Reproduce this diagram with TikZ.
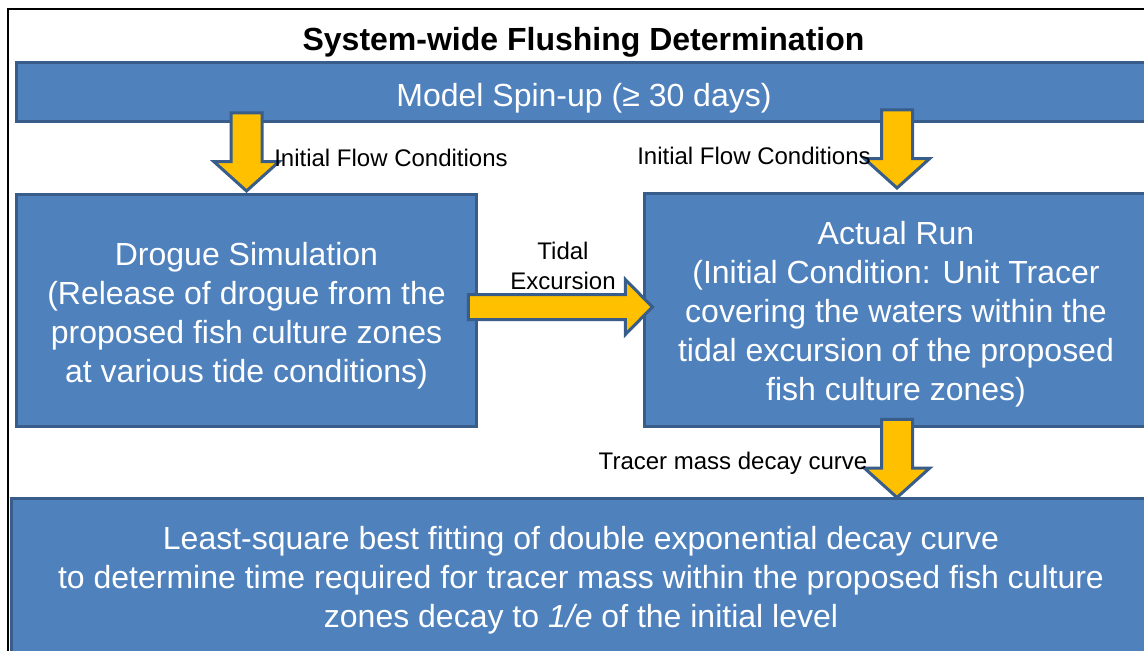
\documentclass[tikz,border=0pt]{standalone}
\usepackage{fontspec}
\setmainfont{Liberation Sans}
\usetikzlibrary{shapes.arrows,calc,positioning}
\definecolor{boxfill}{HTML}{4F81BD}
\definecolor{boxline}{HTML}{385D8A}
\definecolor{arrowfill}{HTML}{FFC000}
\tikzset{
    block/.style={
           rectangle,
           draw=boxline, line width=3pt,
           fill=boxfill,
           inner sep=0pt,
           },
    boxtext/.style={
           text=white,
           align=center,
           inner sep=0pt,
           font=\fontsize{32}{39}\selectfont,
           },
    fatdown/.style={
           single arrow,
           draw=boxline, line width=3pt,
           fill=arrowfill,
           inner xsep=0pt, inner ysep=14pt,
           single arrow head extend=17pt,
           single arrow tip angle=96,
           minimum height=78pt,
           rotate=-90,
           anchor=tip,
           },
    fatright/.style={
           single arrow,
           draw=boxline, line width=3pt,
           fill=arrowfill,
           inner xsep=0pt, inner ysep=11pt,
           single arrow head extend=15pt,
           single arrow tip angle=91,
           minimum height=184pt,
           anchor=tip,
           },
    lbl/.style={
           align=center,
           inner sep=0pt,
           font=\fontsize{24}{30}\selectfont,
           }
}
\begin{document}
\begin{tikzpicture}[x=1pt,y=-1pt]
\path[use as bounding box, fill=white] (0,0) rectangle (1144,651);
\draw[black, line width=1.2pt] (8,660) -- (8,9) -- (1150,9);
\node[font=\fontsize{32}{38}\selectfont\bfseries] (title) at (583.5,42) {System-wide Flushing Determination};
% boxes
\node[block, minimum width=1135pt, minimum height=59pt] (spinup) at (584,92) {};
\node[block, minimum width=460pt, minimum height=232pt] (drogue) at (246.5,310.5) {};
\node[block, minimum width=503pt, minimum height=233pt] (actual) at (896,310) {};
\node[block, minimum width=1139pt, minimum height=159pt] (lsq) at (581,578) {};
% box texts
\node[boxtext] (spinup-t) at ($(spinup)+(0,6)$) {Model Spin-up (≥ 30 days)};
\node[boxtext] (drogue-t) at ($(drogue)+(0,5)$) {Drogue Simulation\\(Release of drogue from the\\proposed fish culture zones\\at various tide conditions)};
\node[boxtext] (actual-t) at ($(actual)+(0,4)$) {Actual Run\\(Initial Condition: Unit Tracer\\covering the waters within the\\tidal excursion of the proposed\\fish culture zones)};
\node[boxtext] (lsq-t) at ($(lsq)+(0,2)$) {Least-square best fitting of double exponential decay curve\\to determine time required for tracer mass within the proposed fish culture\\zones decay to \textit{1/e} of the initial level};
% arrows
\node[fatdown] (arr1) at (drogue.north) {};
\node[fatdown] (arr2) at ($(actual.north)+(1,-2)$) {};
\node[fatright] (arr3) at ($(actual.west)+(11.5,-3)$) {};
\node[fatdown] (arr4) at ($(actual.south |- lsq.north)+(1,2.5)$) {};
% labels
\node[lbl] (ifc1) at (391,158) {Initial Flow Conditions};
\node[lbl] (ifc2) at (754,156) {Initial Flow Conditions};
\node[lbl] (tidal) at (563,266) {Tidal\\Excursion};
\node[lbl] (decay) at (733,463) {Tracer mass decay curve};
\end{tikzpicture}
\end{document}
